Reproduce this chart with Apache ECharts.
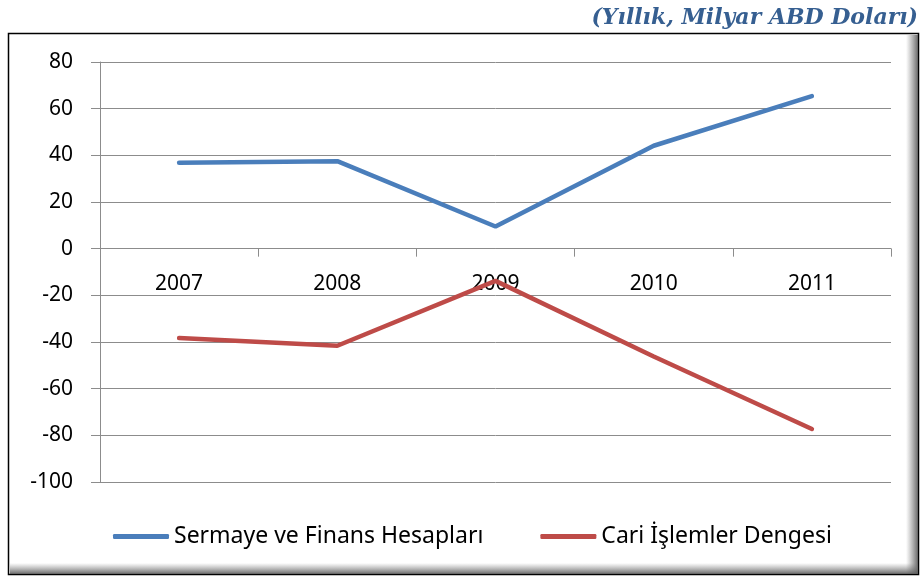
<!DOCTYPE html>
<html>
<head>
<meta charset="utf-8">
<script src="https://cdn.jsdelivr.net/npm/echarts@6/dist/echarts.min.js"></script>
<style>
html, body { margin: 0; padding: 0; background: #fff; }
#main { width: 921px; height: 581px; }
</style>
</head>
<body>
<div id="main"></div>
<script>
// veriler
var years = ["2007", "2008", "2009", "2010", "2011"];
var sermaye = [36.8, 37.5, 9.5, 44.1, 65.4];
var cari = [-38.3, -41.6, -13.8, -46.2, -77.3];
var seriesNames = ["Sermaye ve Finans Hesapları", "Cari İşlemler Dengesi"];
var unitText = "(Yıllık, Milyar ABD Doları)";

var FONT = "Noto Sans";
var GRID_COLOR = "#8c8c8c";

var myChart = echarts.init(document.getElementById("main"));
myChart.setOption({
	animation: false,
	backgroundColor: "#fff",
	title: {
		text: unitText,
		right: 3,
		top: 7,
		padding: 0,
		textStyle: {
			fontFamily: "DejaVu Serif",
			fontStyle: "italic",
			fontWeight: "bold",
			fontSize: 22,
			color: "#365F91"
		}
	},
	graphic: [
		{
			type: "rect",
			z: -10,
			shape: { x: 8.5, y: 33.5, width: 910, height: 541 },
			style: { fill: "#fff", stroke: "#000", lineWidth: 1.5 }
		},
		{
			// sağ iç gölge
			type: "rect",
			z: -9,
			shape: { x: 906, y: 35, width: 12, height: 539 },
			style: {
				fill: new echarts.graphic.LinearGradient(0, 0, 1, 0, [
					{ offset: 0, color: "rgba(120,120,120,0)" },
					{ offset: 1, color: "rgba(90,90,90,0.9)" }
				])
			}
		},
		{
			// alt iç gölge
			type: "rect",
			z: -9,
			shape: { x: 10, y: 563, width: 908, height: 11 },
			style: {
				fill: new echarts.graphic.LinearGradient(0, 0, 0, 1, [
					{ offset: 0, color: "rgba(120,120,120,0)" },
					{ offset: 1, color: "rgba(90,90,90,0.9)" }
				])
			}
		}
	],
	legend: {
		top: 525,
		left: 113,
		padding: 0,
		itemWidth: 56,
		itemHeight: 5,
		itemGap: 57,
		icon: "roundRect",
		textStyle: {
			fontFamily: FONT,
			fontSize: 23,
			color: "#000"
		},
		data: seriesNames
	},
	grid: {
		left: 100,
		right: 30,
		top: 62,
		bottom: 99,
		containLabel: false
	},
	xAxis: [
		{
			type: "category",
			data: years,
			boundaryGap: true,
			axisLine: { show: true, onZero: true, lineStyle: { color: GRID_COLOR, width: 1 } },
			axisTick: { show: true, length: 8, lineStyle: { color: GRID_COLOR } },
			axisLabel: { show: false }
		},
		{
			// yıl etiketleri sıfır çizgisinin altında
			type: "category",
			data: years,
			position: "bottom",
			offset: -233,
			boundaryGap: true,
			axisLine: { show: false },
			axisTick: { show: false },
			axisLabel: {
				margin: 25,
				fontFamily: FONT,
				fontSize: 21,
				color: "#000"
			}
		}
	],
	yAxis: {
		type: "value",
		min: -100,
		max: 80,
		interval: 20,
		axisLine: { show: true, lineStyle: { color: GRID_COLOR, width: 1 } },
		axisTick: { show: true, length: 9, lineStyle: { color: GRID_COLOR } },
		axisLabel: {
			margin: 27,
			fontFamily: FONT,
			fontSize: 21,
			color: "#000"
		},
		splitLine: { show: true, lineStyle: { color: GRID_COLOR, width: 1 } }
	},
	series: [
		{
			name: seriesNames[0],
			type: "line",
			data: sermaye,
			symbol: "none",
			lineStyle: { color: "#4A7EBB", width: 4.5, cap: "round" },
			itemStyle: { color: "#4A7EBB" }
		},
		{
			name: seriesNames[1],
			type: "line",
			data: cari,
			symbol: "none",
			lineStyle: { color: "#BE4B48", width: 4.5, cap: "round" },
			itemStyle: { color: "#BE4B48" }
		}
	]
});
</script>
</body>
</html>
